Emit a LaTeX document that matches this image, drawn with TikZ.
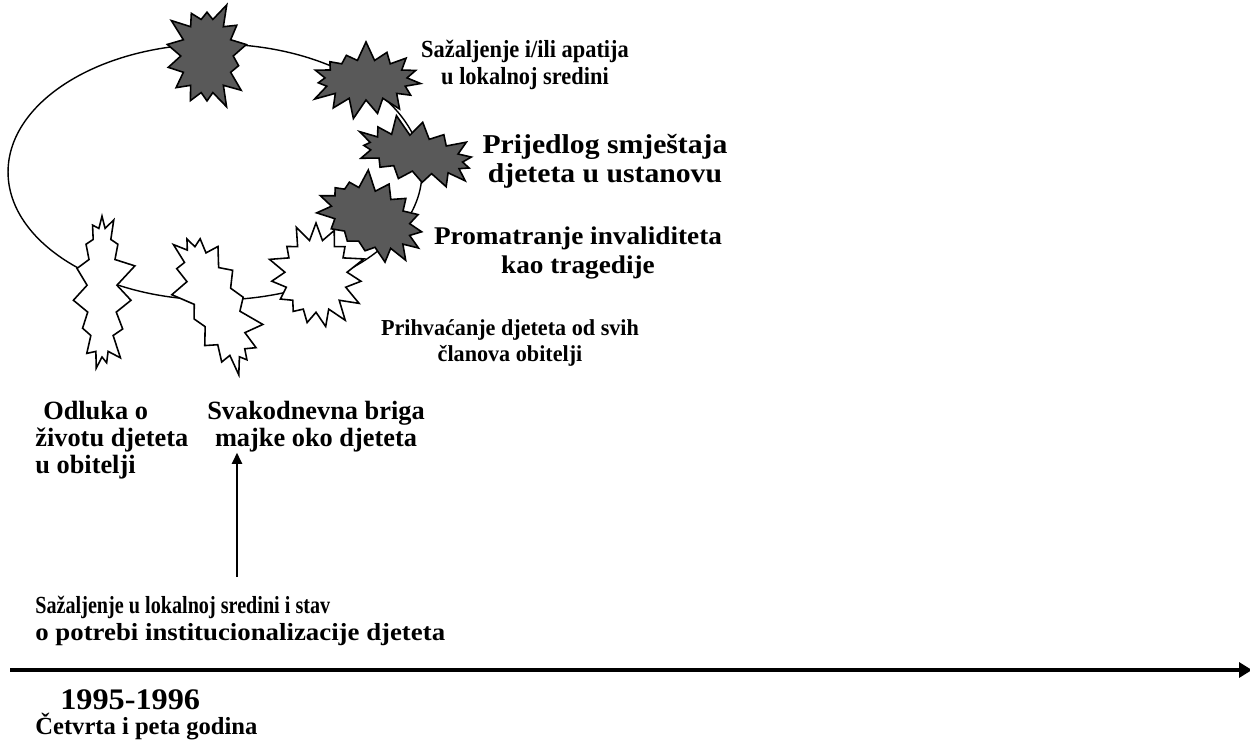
\documentclass[tikz,border=0pt]{standalone}
\usepackage{fontspec}
\usepackage{graphicx}
\setmainfont{Liberation Serif}
\usetikzlibrary{shapes.symbols,arrows.meta,positioning}
\definecolor{dkburst}{HTML}{595959}
\newcommand{\hsq}[2]{\scalebox{#1}[1]{#2}}
\tikzset{
  burst/.style={starburst,draw=black,line width=0.9pt,fill=#1,
                starburst point height=0.4cm,inner sep=0pt},
  ring/.style={line width=0.8pt,draw=black},
  fs/.style 2 args={font=\fontsize{#1}{#2}\selectfont\bfseries},
  lbl/.style={fs={14}{15.3},align=center,inner sep=0pt},
  lbll/.style={lbl,align=left},
  arr/.style={-{Triangle[length=0.22cm,width=0.2cm]},line width=1.1pt},
  tarr/.style={-{Triangle[length=0.26cm,width=0.3cm]},line width=1.8pt},
}

\begin{document}
\begin{tikzpicture}[x=0.02cm,y=-0.02cm]
  \useasboundingbox (0,0) rectangle (1250,755);

  %% ── ring behind the bursts ───────────────────────────────────────────────
  \coordinate (ringc) at (215,172);
  \draw[ring] (ringc) ellipse [x radius=4.14cm,y radius=2.56cm];

  %% ── dark bursts (upper part of ring) ─────────────────────────────────────
  \node[burst=dkburst,starburst points=14,random starburst=3,
        minimum width=1.85cm,minimum height=2.3cm] (top) at (207,56) {};
  \node[burst=dkburst,starburst points=15,random starburst=7,
        minimum width=2.45cm,minimum height=1.6cm] (apat) at (366,80) {};
  \node[burst=dkburst,starburst points=15,random starburst=11,rotate=-12,
        minimum width=2.7cm,minimum height=1.5cm] (ustan) at (416,154) {};
  \node[burst=dkburst,starburst points=15,random starburst=5,rotate=-28,
        minimum width=2.5cm,minimum height=1.85cm] (trag) at (371,218) {};

  %% ── white bursts (lower part of ring) ────────────────────────────────────
  \node[burst=white,starburst points=15,random starburst=2,
        minimum width=1.4cm,minimum height=3.4cm] (odl) at (102,292) {};
  \node[burst=white,starburst points=15,random starburst=9,rotate=24,
        minimum width=1.6cm,minimum height=3.2cm] (brig) at (215,302) {};
  \node[burst=white,starburst points=15,random starburst=4,
        minimum width=2.05cm,minimum height=2.25cm] (prih) at (316,276) {};

  %% ── labels ───────────────────────────────────────────────────────────────
  \node[lbl] (lapat)  at (525,65)
        {\hsq{0.91}{Sažaljenje i/ili apatija}\\\hsq{0.91}{u lokalnoj sredini}};
  \node[lbl,fs={15.5}{16.5}] (lustan) at (605,161)
        {\hsq{1.09}{Prijedlog smještaja}\\\hsq{1.09}{djeteta u ustanovu}};
  \node[lbl,fs={14.5}{17}] (ltrag)  at (578,253)
        {\hsq{1.07}{Promatranje invaliditeta}\\\hsq{1.07}{kao tragedije}};
  \node[lbl,fs={13}{15.3}] (lprih)  at (510,343)
        {\hsq{0.97}{Prihvaćanje djeteta od svih}\\\hsq{0.97}{članova obitelji}};
  \node[lbll,fs={15}{15.3},anchor=west] (lodl) at (35,440)
        {\hspace{0.3em}Odluka o\\životu djeteta\\u obitelji};
  \node[lbl,fs={15}{15.3}] (lbrig)  at (316,427)
        {Svakodnevna briga\\majke oko djeteta};
  \node[lbll,anchor=west] (lsred) at (35,621)
        {\hsq{0.82}{Sažaljenje u lokalnoj sredini i stav}\\%
         \hsq{1.09}{o potrebi institucionalizacije djeteta}};

  %% ── arrow to daily care ──────────────────────────────────────────────────
  \coordinate (atail) at (237,577);
  \draw[arr] (atail) -- (atail |- lbrig.south);

  %% ── time axis ────────────────────────────────────────────────────────────
  \coordinate (t0) at (10,670);
  \coordinate (t1) at (1252,670);
  \draw[tarr] (t0) -- (t1);

  \node[lbl,fs={17}{18},anchor=west] (year) at (60,700)
        {\hsq{1.08}{1995-1996}};
  \node[lbll,anchor=west] (period) at (35,727) {Četvrta i peta godina};

\end{tikzpicture}
\end{document}
